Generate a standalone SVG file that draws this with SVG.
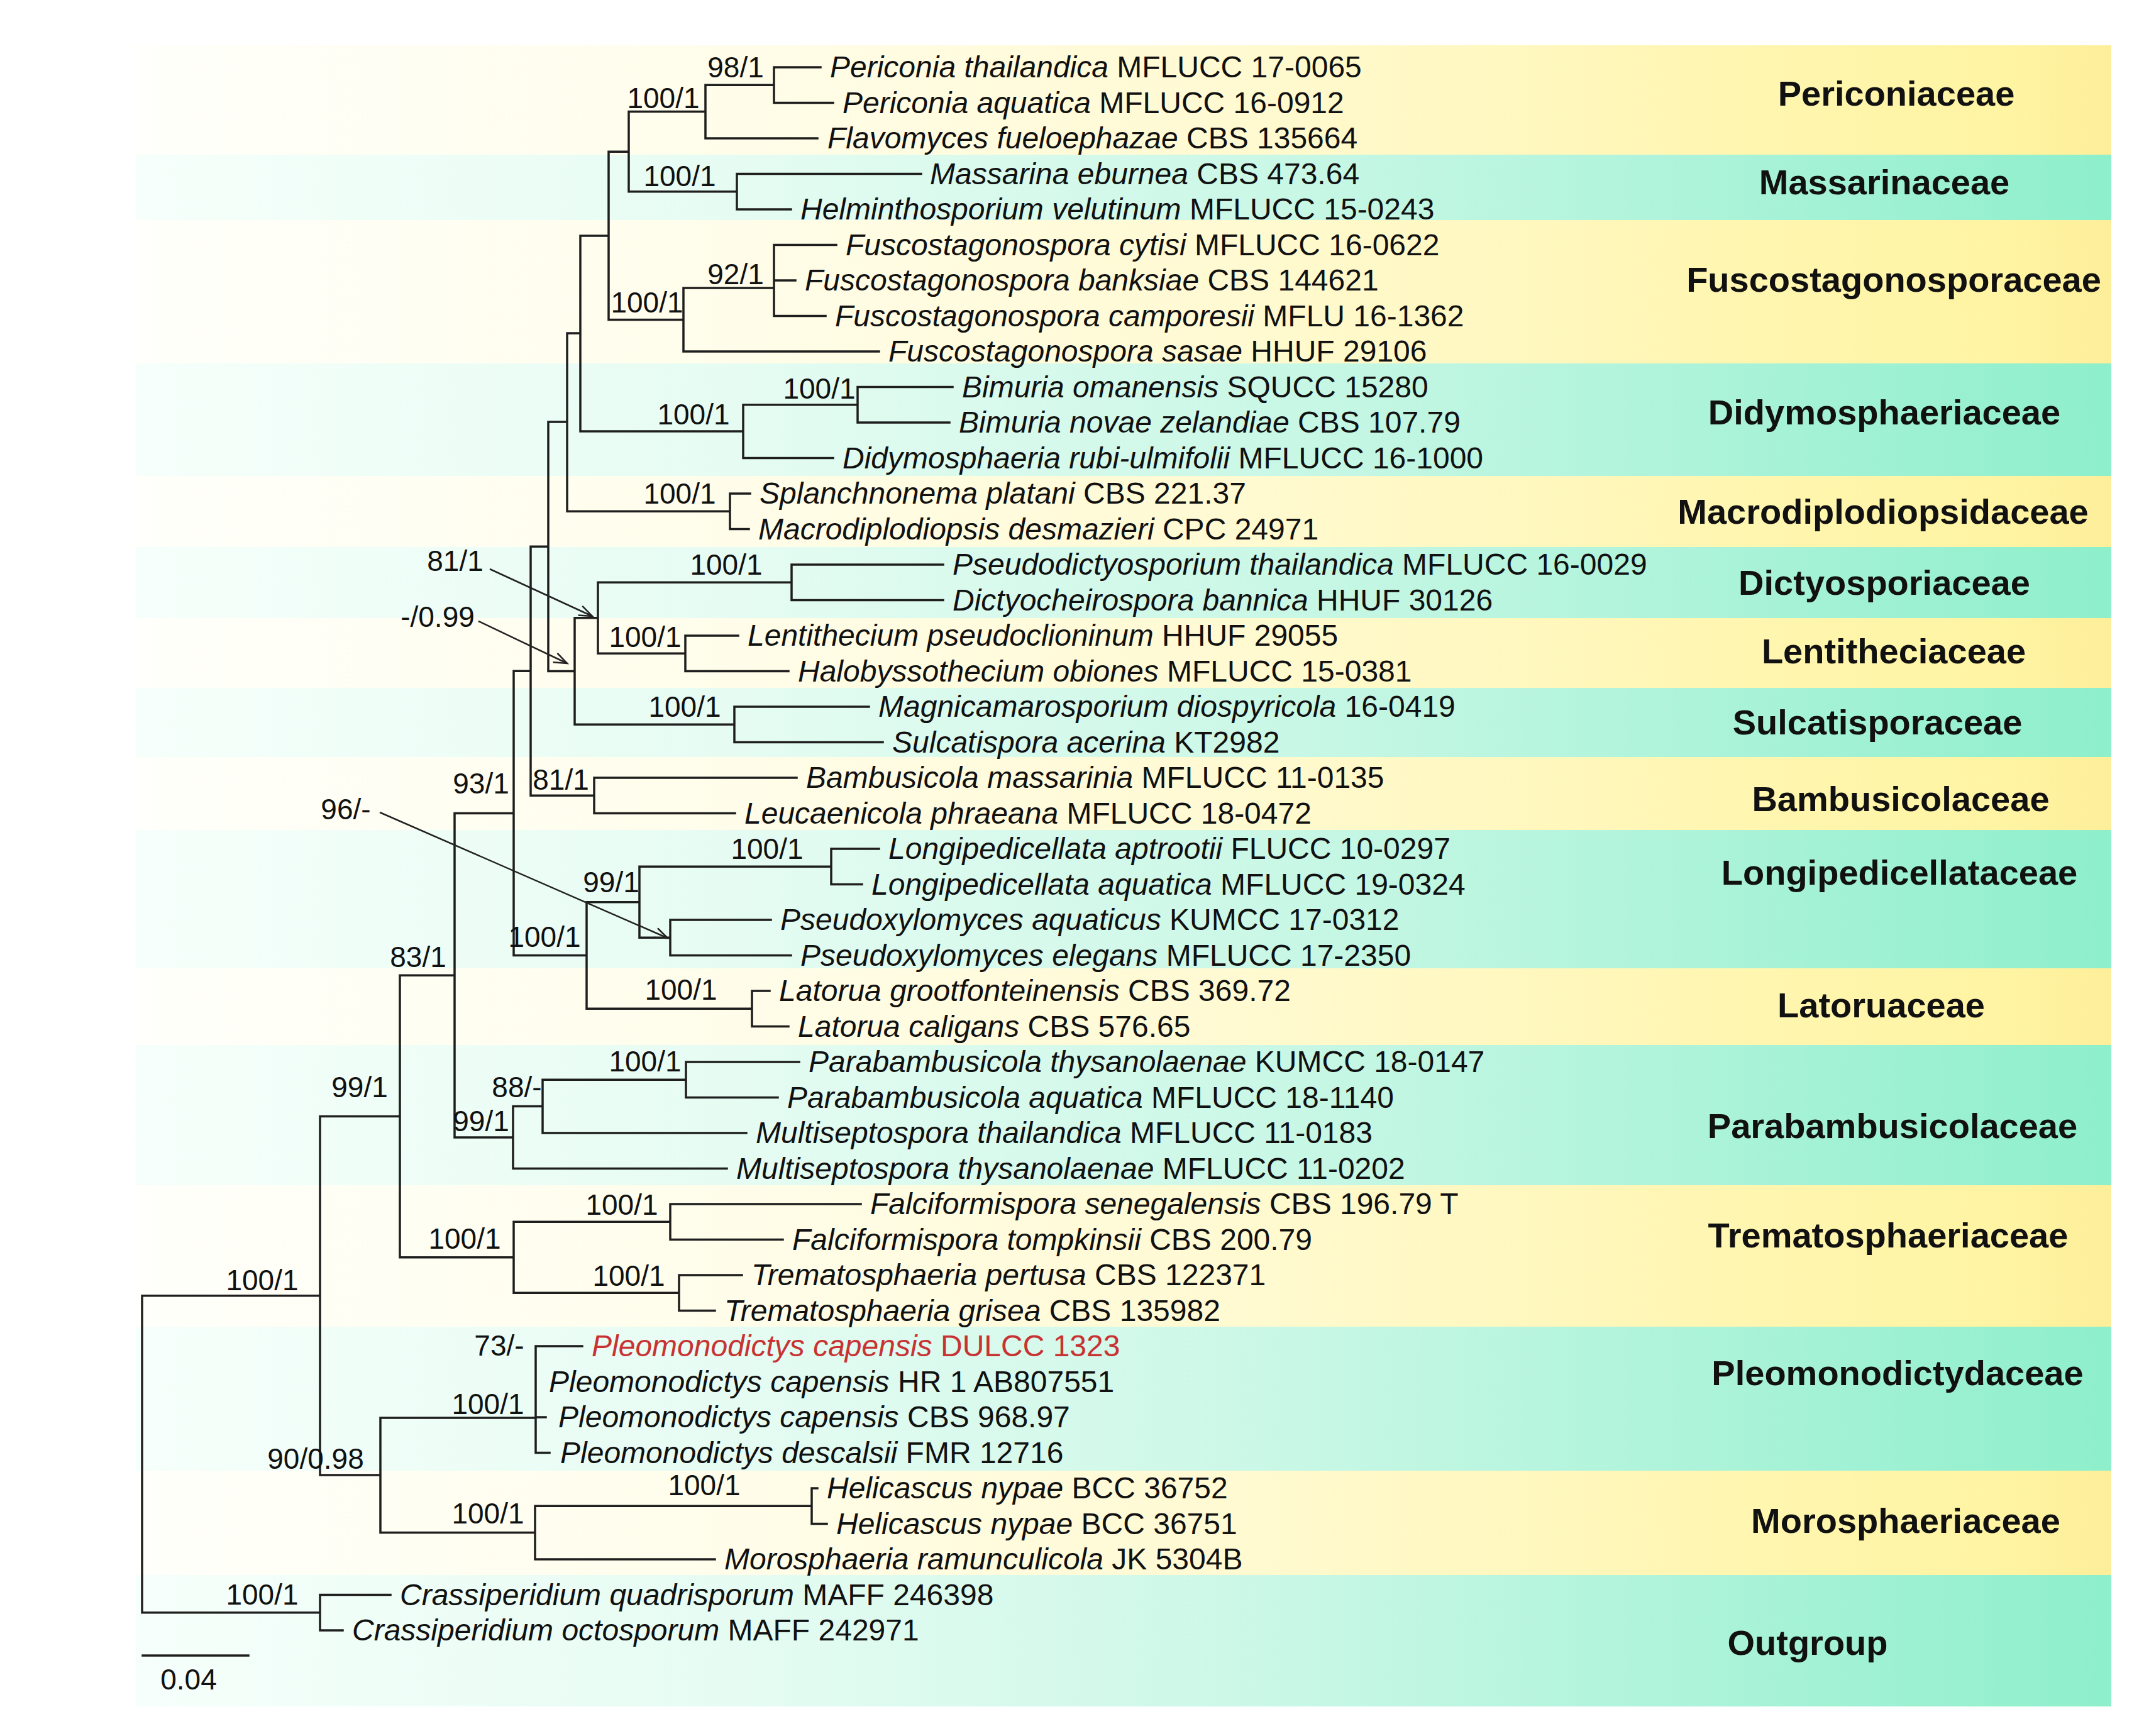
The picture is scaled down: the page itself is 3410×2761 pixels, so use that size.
<svg xmlns="http://www.w3.org/2000/svg" width="3410" height="2761" viewBox="0 0 3410 2761">
<defs>
<linearGradient id="gy" gradientUnits="userSpaceOnUse" x1="216" y1="0" x2="3358" y2="0">
<stop offset="0" stop-color="#fffffb"/><stop offset="0.3" stop-color="#fffdea"/><stop offset="0.55" stop-color="#fffad2"/><stop offset="0.8" stop-color="#fff6b2"/><stop offset="0.95" stop-color="#fff4a2"/><stop offset="1" stop-color="#fdee9a"/>
</linearGradient>
<linearGradient id="gt" gradientUnits="userSpaceOnUse" x1="216" y1="0" x2="3358" y2="0">
<stop offset="0" stop-color="#f6fffb"/><stop offset="0.3" stop-color="#e6fcf3"/><stop offset="0.55" stop-color="#cdf8e8"/><stop offset="0.8" stop-color="#abf3d9"/><stop offset="1" stop-color="#8eefcb"/>
</linearGradient>
<marker id="ah" markerUnits="userSpaceOnUse" markerWidth="30" markerHeight="24" refX="22" refY="9" orient="auto">
<path d="M1 1 L22 9 L1 17" fill="none" stroke="#222" stroke-width="2.5"/>
</marker>
<style>
.y{fill:url(#gy)} .t{fill:url(#gt)}
.tx{font-family:"Liberation Sans",Arial,sans-serif;font-size:48px;fill:#111}
.sp{font-style:italic}
.red{fill:#c83232}
.bs{font-family:"Liberation Sans",Arial,sans-serif;font-size:46px;fill:#111;text-anchor:middle}
.fam{font-family:"Liberation Sans",Arial,sans-serif;font-size:56px;font-weight:bold;fill:#111;text-anchor:middle}
.br{fill:none;stroke:#1e1e1e;stroke-width:3.5;stroke-linecap:square}
.ar{fill:none;stroke:#222;stroke-width:2.5}
</style>
</defs>
<rect width="3410" height="2761" fill="#ffffff"/>
<g id="bands">
<rect class="y" x="216" y="72" width="3142" height="174"/>
<rect class="t" x="216" y="246" width="3142" height="104"/>
<rect class="y" x="216" y="350" width="3142" height="228"/>
<rect class="t" x="216" y="578" width="3142" height="179"/>
<rect class="y" x="216" y="757" width="3142" height="113"/>
<rect class="t" x="216" y="870" width="3142" height="113"/>
<rect class="y" x="216" y="983" width="3142" height="111"/>
<rect class="t" x="216" y="1094" width="3142" height="110"/>
<rect class="y" x="216" y="1204" width="3142" height="116"/>
<rect class="t" x="216" y="1320" width="3142" height="220"/>
<rect class="y" x="216" y="1540" width="3142" height="122"/>
<rect class="t" x="216" y="1662" width="3142" height="223"/>
<rect class="y" x="216" y="1885" width="3142" height="225"/>
<rect class="t" x="216" y="2110" width="3142" height="229"/>
<rect class="y" x="216" y="2339" width="3142" height="166"/>
<rect class="t" x="216" y="2505" width="3142" height="209"/>
</g>
<g id="families">
<text id="fam-periconiaceae" class="fam" x="3016" y="168">Periconiaceae</text>
<text id="fam-massarinaceae" class="fam" x="2997" y="309">Massarinaceae</text>
<text id="fam-fuscostagonosporaceae" class="fam" x="3012" y="464">Fuscostagonosporaceae</text>
<text id="fam-didymosphaeriaceae" class="fam" x="2997" y="675">Didymosphaeriaceae</text>
<text id="fam-macrodiplodiopsidaceae" class="fam" x="2995" y="833">Macrodiplodiopsidaceae</text>
<text id="fam-dictyosporiaceae" class="fam" x="2997" y="946">Dictyosporiaceae</text>
<text id="fam-lentitheciaceae" class="fam" x="3012" y="1055">Lentitheciaceae</text>
<text id="fam-sulcatisporaceae" class="fam" x="2986" y="1168">Sulcatisporaceae</text>
<text id="fam-bambusicolaceae" class="fam" x="3023" y="1290">Bambusicolaceae</text>
<text id="fam-longipedicellataceae" class="fam" x="3021" y="1407">Longipedicellataceae</text>
<text id="fam-latoruaceae" class="fam" x="2992" y="1618">Latoruaceae</text>
<text id="fam-parabambusicolaceae" class="fam" x="3010" y="1810">Parabambusicolaceae</text>
<text id="fam-trematosphaeriaceae" class="fam" x="3003" y="1984">Trematosphaeriaceae</text>
<text id="fam-pleomonodictydaceae" class="fam" x="3018" y="2203">Pleomonodictydaceae</text>
<text id="fam-morosphaeriaceae" class="fam" x="3031" y="2438">Morosphaeriaceae</text>
<text id="fam-outgroup" class="fam" x="2875" y="2632">Outgroup</text>
</g>
<g id="connectors">
<path class="br" d="M226 2060.75V2564.75M226 2060.75H509M226 2564.75H509
M509 1775.5V2346M509 1775.5H636M509 2346H605
M509 2536.5V2593M509 2536.5H621M509 2593H545
M636 1551.2V1999.75M636 1551.2H723M636 1999.75H817
M723 1293.4V1809M723 1293.4H817M723 1809H816
M817 1067.3V1519.5M817 1067.3H844M817 1519.5H933
M844 869.3V1265.25M844 869.3H872M844 1265.25H945
M872 671.1V1067.5M872 671.1H902M872 1067.5H914
M902 530V813.25M902 530H923M902 813.25H1161
M923 374.9V686.1M923 374.9H968M923 686.1H1182
M968 241.2V508.5M968 241.2H1000M968 508.5H1087
M1000 177.6V304.75M1000 177.6H1122M1000 304.75H1172
M1122 135.25V220M1122 135.25H1231M1122 220H1300
M1231 107V163.5M1231 107H1305M1231 163.5H1325
M1172 276.5V333M1172 276.5H1465M1172 333H1258
M1087 458V559M1087 458H1231M1087 559H1398
M1231 389.5V502.5M1231 389.5H1330M1231 446H1265M1231 502.5H1313
M1182 643.75V728.5M1182 643.75H1364M1182 728.5H1325
M1364 615.5V672M1364 615.5H1515M1364 672H1510
M1161 785V841.5M1161 785H1193M1161 841.5H1191
M914 982.75V1152.25M914 982.75H951M914 1152.25H1168
M951 926.25V1039.25M951 926.25H1259M951 1039.25H1090
M1259 898V954.5M1259 898H1500M1259 954.5H1500
M1090 1011V1067.5M1090 1011H1174M1090 1067.5H1254
M1168 1124V1180.5M1168 1124H1382M1168 1180.5H1404
M945 1237V1293.5M945 1237H1267M945 1293.5H1169
M933 1434.75V1604.25M933 1434.75H1017M933 1604.25H1196
M1017 1378.25V1491.25M1017 1378.25H1322M1017 1491.25H1066
M1322 1350V1406.5M1322 1350H1398M1322 1406.5H1371
M1066 1463V1519.5M1066 1463H1226M1066 1519.5H1258
M1196 1576V1632.5M1196 1576H1224M1196 1632.5H1254
M816 1759.6V1858.5M816 1759.6H863M816 1858.5H1156
M863 1717.25V1802M863 1717.25H1091M863 1802H1187
M1091 1689V1745.5M1091 1689H1271M1091 1745.5H1237
M817 1943.25V2056.25M817 1943.25H1066M817 2056.25H1080
M1066 1915V1971.5M1066 1915H1369M1066 1971.5H1245
M1080 2028V2084.5M1080 2028H1180M1080 2084.5H1137
M605 2255V2437.6M605 2255H852M605 2437.6H851
M852 2141V2310.5M852 2141H926M852 2254H868M852 2310.5H874
M851 2395.25V2480M851 2395.25H1291M851 2480H1137
M1291 2367V2423.5M1291 2367H1300M1291 2423.5H1315"/>
<path class="ar" d="M779 905L942 980" marker-end="url(#ah)"/>
<path class="ar" d="M761 988L902 1055" marker-end="url(#ah)"/>
<path class="ar" d="M604 1292L1062 1492" marker-end="url(#ah)"/>
<path class="br" d="M227 2633H395"/>
</g>
<g id="support">
<text class="bs" x="1170" y="123">98/1</text>
<text class="bs" x="1055" y="172">100/1</text>
<text class="bs" x="1081" y="296">100/1</text>
<text class="bs" x="1170" y="452">92/1</text>
<text class="bs" x="1029" y="497">100/1</text>
<text class="bs" x="1303" y="634">100/1</text>
<text class="bs" x="1103" y="675">100/1</text>
<text class="bs" x="1081" y="801">100/1</text>
<text class="bs" x="1155" y="914">100/1</text>
<text class="bs" x="724" y="908">81/1</text>
<text class="bs" x="696" y="997">-/0.99</text>
<text class="bs" x="1026" y="1029">100/1</text>
<text class="bs" x="1089" y="1140">100/1</text>
<text class="bs" x="765" y="1262">93/1</text>
<text class="bs" x="892" y="1256">81/1</text>
<text class="bs" x="550" y="1303">96/-</text>
<text class="bs" x="1220" y="1366">100/1</text>
<text class="bs" x="972" y="1419">99/1</text>
<text class="bs" x="866" y="1506">100/1</text>
<text class="bs" x="665" y="1538">83/1</text>
<text class="bs" x="1083" y="1590">100/1</text>
<text class="bs" x="1026" y="1704">100/1</text>
<text class="bs" x="822" y="1745">88/-</text>
<text class="bs" x="765" y="1799">99/1</text>
<text class="bs" x="572" y="1745">99/1</text>
<text class="bs" x="989" y="1932">100/1</text>
<text class="bs" x="739" y="1986">100/1</text>
<text class="bs" x="1000" y="2045">100/1</text>
<text class="bs" x="417" y="2052">100/1</text>
<text class="bs" x="794" y="2156">73/-</text>
<text class="bs" x="776" y="2249">100/1</text>
<text class="bs" x="502" y="2336">90/0.98</text>
<text class="bs" x="1120" y="2378">100/1</text>
<text class="bs" x="776" y="2423">100/1</text>
<text class="bs" x="417" y="2552">100/1</text>
<text class="bs" x="300" y="2687">0.04</text>
</g>
<g id="taxa">
<g id="t01"><text class="tx" x="1320" y="123"><tspan class="sp">Periconia thailandica</tspan> MFLUCC 17-0065</text></g>
<g id="t02"><text class="tx" x="1340" y="179.5"><tspan class="sp">Periconia aquatica</tspan> MFLUCC 16-0912</text></g>
<g id="t03"><text class="tx" x="1316" y="236"><tspan class="sp">Flavomyces fueloephazae</tspan> CBS 135664</text></g>
<g id="t04"><text class="tx" x="1479" y="292.5"><tspan class="sp">Massarina eburnea</tspan> CBS 473.64</text></g>
<g id="t05"><text class="tx" x="1273" y="349"><tspan class="sp">Helminthosporium velutinum</tspan> MFLUCC 15-0243</text></g>
<g id="t06"><text class="tx" x="1345" y="405.5"><tspan class="sp">Fuscostagonospora cytisi</tspan> MFLUCC 16-0622</text></g>
<g id="t07"><text class="tx" x="1280" y="462"><tspan class="sp">Fuscostagonospora banksiae</tspan> CBS 144621</text></g>
<g id="t08"><text class="tx" x="1328" y="518.5"><tspan class="sp">Fuscostagonospora camporesii</tspan> MFLU 16-1362</text></g>
<g id="t09"><text class="tx" x="1413" y="575"><tspan class="sp">Fuscostagonospora sasae</tspan> HHUF 29106</text></g>
<g id="t10"><text class="tx" x="1530" y="631.5"><tspan class="sp">Bimuria omanensis</tspan> SQUCC 15280</text></g>
<g id="t11"><text class="tx" x="1525" y="688"><tspan class="sp">Bimuria novae zelandiae</tspan> CBS 107.79</text></g>
<g id="t12"><text class="tx" x="1340" y="744.5"><tspan class="sp">Didymosphaeria rubi-ulmifolii</tspan> MFLUCC 16-1000</text></g>
<g id="t13"><text class="tx" x="1208" y="801"><tspan class="sp">Splanchnonema platani</tspan> CBS 221.37</text></g>
<g id="t14"><text class="tx" x="1206" y="857.5"><tspan class="sp">Macrodiplodiopsis desmazieri</tspan> CPC 24971</text></g>
<g id="t15"><text class="tx" x="1515" y="914"><tspan class="sp">Pseudodictyosporium thailandica</tspan> MFLUCC 16-0029</text></g>
<g id="t16"><text class="tx" x="1515" y="970.5"><tspan class="sp">Dictyocheirospora bannica</tspan> HHUF 30126</text></g>
<g id="t17"><text class="tx" x="1189" y="1027"><tspan class="sp">Lentithecium pseudoclioninum</tspan> HHUF 29055</text></g>
<g id="t18"><text class="tx" x="1269" y="1083.5"><tspan class="sp">Halobyssothecium obiones</tspan> MFLUCC 15-0381</text></g>
<g id="t19"><text class="tx" x="1397" y="1140"><tspan class="sp">Magnicamarosporium diospyricola</tspan> 16-0419</text></g>
<g id="t20"><text class="tx" x="1419" y="1196.5"><tspan class="sp">Sulcatispora acerina</tspan> KT2982</text></g>
<g id="t21"><text class="tx" x="1282" y="1253"><tspan class="sp">Bambusicola massarinia</tspan> MFLUCC 11-0135</text></g>
<g id="t22"><text class="tx" x="1184" y="1309.5"><tspan class="sp">Leucaenicola phraeana</tspan> MFLUCC 18-0472</text></g>
<g id="t23"><text class="tx" x="1413" y="1366"><tspan class="sp">Longipedicellata aptrootii</tspan> FLUCC 10-0297</text></g>
<g id="t24"><text class="tx" x="1386" y="1422.5"><tspan class="sp">Longipedicellata aquatica</tspan> MFLUCC 19-0324</text></g>
<g id="t25"><text class="tx" x="1241" y="1479"><tspan class="sp">Pseudoxylomyces aquaticus</tspan> KUMCC 17-0312</text></g>
<g id="t26"><text class="tx" x="1273" y="1535.5"><tspan class="sp">Pseudoxylomyces elegans</tspan> MFLUCC 17-2350</text></g>
<g id="t27"><text class="tx" x="1239" y="1592"><tspan class="sp">Latorua grootfonteinensis</tspan> CBS 369.72</text></g>
<g id="t28"><text class="tx" x="1269" y="1648.5"><tspan class="sp">Latorua caligans</tspan> CBS 576.65</text></g>
<g id="t29"><text class="tx" x="1286" y="1705"><tspan class="sp">Parabambusicola thysanolaenae</tspan> KUMCC 18-0147</text></g>
<g id="t30"><text class="tx" x="1252" y="1761.5"><tspan class="sp">Parabambusicola aquatica</tspan> MFLUCC 18-1140</text></g>
<g id="t31"><text class="tx" x="1202" y="1818"><tspan class="sp">Multiseptospora thailandica</tspan> MFLUCC 11-0183</text></g>
<g id="t32"><text class="tx" x="1171" y="1874.5"><tspan class="sp">Multiseptospora thysanolaenae</tspan> MFLUCC 11-0202</text></g>
<g id="t33"><text class="tx" x="1384" y="1931"><tspan class="sp">Falciformispora senegalensis</tspan> CBS 196.79 T</text></g>
<g id="t34"><text class="tx" x="1260" y="1987.5"><tspan class="sp">Falciformispora tompkinsii</tspan> CBS 200.79</text></g>
<g id="t35"><text class="tx" x="1195" y="2044"><tspan class="sp">Trematosphaeria pertusa</tspan> CBS 122371</text></g>
<g id="t36"><text class="tx" x="1152" y="2100.5"><tspan class="sp">Trematosphaeria grisea</tspan> CBS 135982</text></g>
<g id="t37"><text class="tx red" x="941" y="2157"><tspan class="sp">Pleomonodictys capensis</tspan> DULCC 1323</text></g>
<g id="t38"><text class="tx" x="873" y="2213.5"><tspan class="sp">Pleomonodictys capensis</tspan> HR 1 AB807551</text></g>
<g id="t39"><text class="tx" x="888" y="2270"><tspan class="sp">Pleomonodictys capensis</tspan> CBS 968.97</text></g>
<g id="t40"><text class="tx" x="891" y="2326.5"><tspan class="sp">Pleomonodictys descalsii</tspan> FMR 12716</text></g>
<g id="t41"><text class="tx" x="1315" y="2383"><tspan class="sp">Helicascus nypae</tspan> BCC 36752</text></g>
<g id="t42"><text class="tx" x="1330" y="2439.5"><tspan class="sp">Helicascus nypae</tspan> BCC 36751</text></g>
<g id="t43"><text class="tx" x="1152" y="2496"><tspan class="sp">Morosphaeria ramunculicola</tspan> JK 5304B</text></g>
<g id="t44"><text class="tx" x="636" y="2552.5"><tspan class="sp">Crassiperidium quadrisporum</tspan> MAFF 246398</text></g>
<g id="t45"><text class="tx" x="560" y="2609"><tspan class="sp">Crassiperidium octosporum</tspan> MAFF 242971</text></g>
</g>
</svg>
